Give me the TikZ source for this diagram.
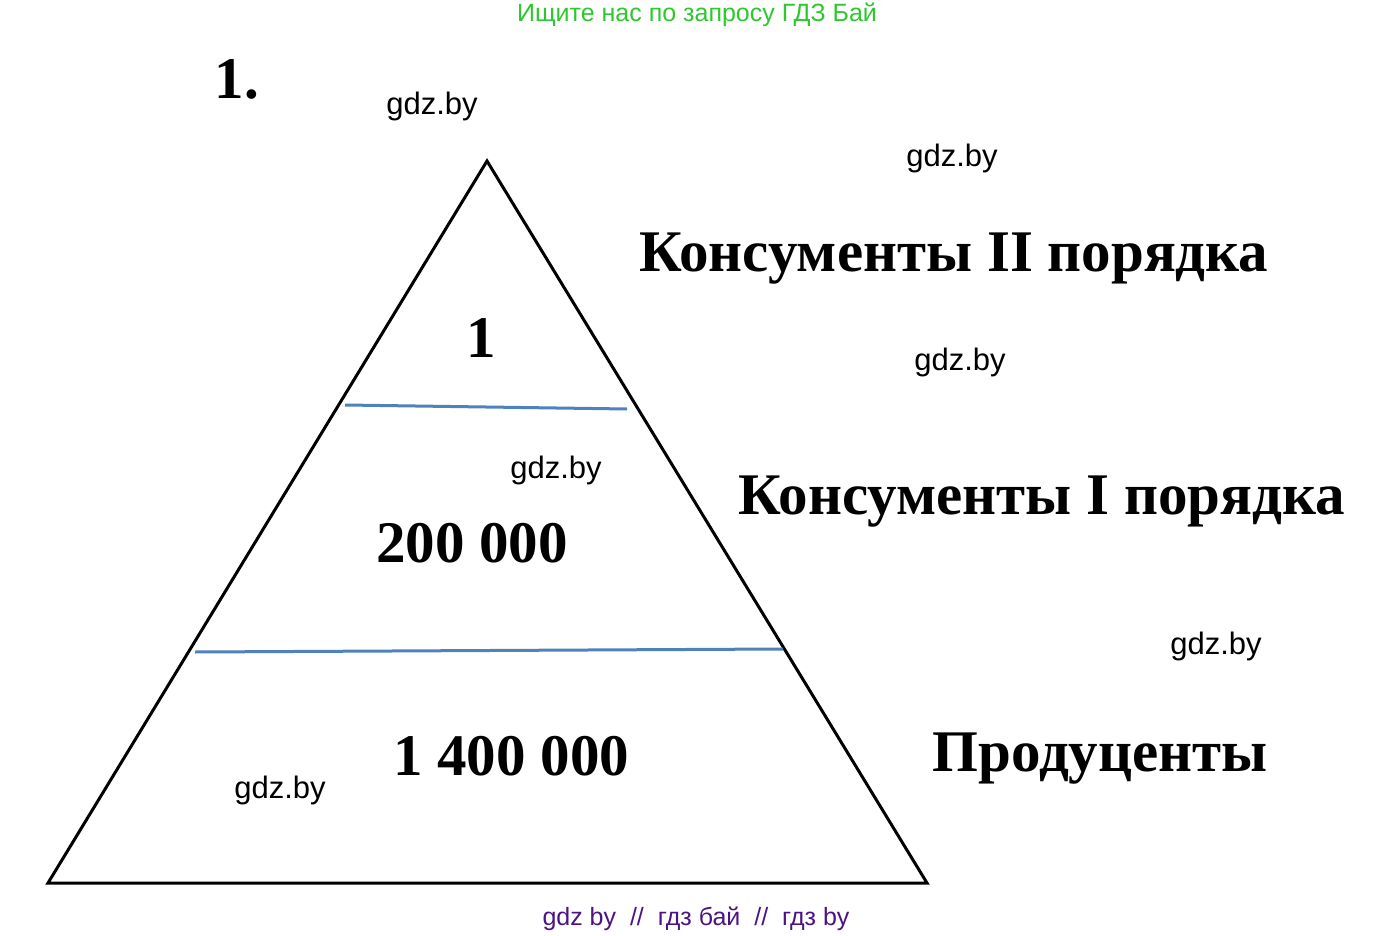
\documentclass[tikz,border=0pt]{standalone}
\usepackage{fontspec}
\setmainfont{Liberation Serif}
\newfontfamily\wmfont{Liberation Sans}
\usetikzlibrary{positioning}
\definecolor{wmgreen}{RGB}{45,200,45}
\definecolor{wmpurple}{RGB}{75,20,130}
\definecolor{lineblue}{RGB}{79,129,189}

\begin{document}
\begin{tikzpicture}[x=1pt,y=-1pt,semithick]
\tikzstyle{every node}=[inner sep=0pt,anchor=center]
\tikzstyle{mark wm}=[font=\wmfont\fontsize{31}{34}\selectfont,text=black]
\tikzstyle{big}=[font=\bfseries\fontsize{59}{65}\selectfont,text=black]
\tikzstyle{level line}=[draw=lineblue,line width=3pt]
\useasboundingbox (0,0) rectangle (1395,936);
% pyramid
\coordinate (top) at (487,161);
\coordinate (bl) at (48,883);
\coordinate (br) at (927,883);
\draw[line width=3pt,line join=miter] (top) -- (bl) -- (br) -- cycle;
\coordinate (u1) at (345,405);
\coordinate (u2) at (627,409);
\coordinate (l1) at (195,652);
\coordinate (l2) at (783,649);
\draw[level line] (u1) -- (u2);
\draw[level line] (l1) -- (l2);
% numbers
\node[big] (n1) at (481,338) {1};
\node[big] (n2) at (472,543) {200 000};
\node[big] (n3) at (511,756) {1 400 000};
% levels
\node[big] (k2) at (954,259) {Консументы II порядка};
\node[big] (k1) at (1042,502) {Консументы I порядка};
\node[big] (pr) at (1100,759) {Продуценты};
\node[big] (num) at (237,79) {1.};
% watermarks
\node[font=\wmfont\fontsize{25}{28}\selectfont,text=wmgreen] (head) at (697,15) {Ищите нас по запросу ГДЗ Бай};
\node[font=\wmfont\fontsize{25}{28}\selectfont,text=wmpurple] (foot) at (696,919) {gdz by \ // \ гдз бай \ // \ гдз by};
\node[mark wm] (w1) at (432,106) {gdz.by};
\node[mark wm] (w2) at (952,158) {gdz.by};
\node[mark wm] (w3) at (960,362) {gdz.by};
\node[mark wm] (w4) at (556,470) {gdz.by};
\node[mark wm] (w5) at (1216,646) {gdz.by};
\node[mark wm] (w6) at (280,790) {gdz.by};
\end{tikzpicture}
\end{document}
